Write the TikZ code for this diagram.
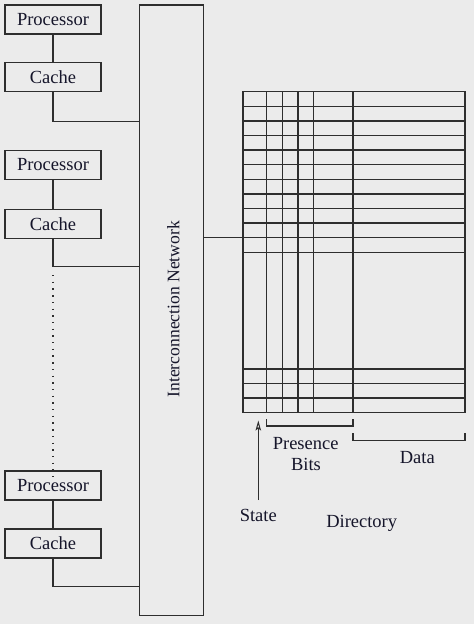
\documentclass[tikz,border=0pt]{standalone}
\usepackage{fontspec}
\setmainfont{Liberation Serif}
\usetikzlibrary{arrows.meta}
\definecolor{bg}{HTML}{EBEBEB}
\definecolor{ln}{HTML}{2E2E2E}
\definecolor{tx}{HTML}{15152A}
\begin{document}
\begin{tikzpicture}[x=1pt,y=-1pt,
  wire/.style={draw=ln,line width=1.4pt},
  unitbox/.style={draw=ln,line width=1.4pt,minimum width=96pt,minimum height=29pt,inner sep=0pt,
    font=\fontsize{18.5}{20}\selectfont,text=tx},
  lbl/.style={inner sep=0pt,font=\fontsize{18.5}{20}\selectfont,text=tx}]
\fill[bg] (0,0) rectangle (474,624);
\useasboundingbox (0,0) rectangle (474,624);
% processor/cache units
\node[unitbox] (p1) at (53,19.5) {Processor};
\node[unitbox] (c1) at (53,77.2) {Cache};
\node[unitbox] (p2) at (53,165) {Processor};
\node[unitbox] (c2) at (53,223.8) {Cache};
\node[unitbox] (p3) at (53,485.5) {Processor};
\node[unitbox] (c3) at (53,543.3) {Cache};
% network
\node[draw=ln,line width=1.4pt,minimum width=64.2pt,minimum height=610.5pt,inner sep=0pt] (net) at (171.6,310.25) {};
\node[lbl,rotate=90,font=\fontsize{17.6}{19}\selectfont] (netlbl) at (173.3,309.2) {Interconnection Network};
\coordinate (j1) at (139.5,121.3);
\coordinate (j2) at (139.5,266.7);
\coordinate (j3) at (139.5,586.7);
\draw[wire] (p1) -- (c1);
\draw[wire] (p2) -- (c2);
\draw[wire] (p3) -- (c3);
\draw[wire] (c1.south) |- (j1);
\draw[wire] (c2.south) |- (j2);
\draw[wire] (c3.south) |- (j3);
\coordinate (d1) at (53,275);
\draw[draw=ln,line width=1.4pt,dash pattern=on 1.4pt off 5.3pt] (d1) -- ([yshift=-6pt]p3.north);
% directory grid
\node[draw=ln,line width=1.4pt,minimum width=222pt,minimum height=320.5pt,inner sep=0pt] (dir) at (354,251.95) {};
\coordinate (nj) at (203.7,237.7);
\draw[wire] (nj) -- (dir.west |- nj);
\foreach \x in {266.7,282.3,298,313.7,353}
  \draw[wire] (\x,91.7) -- (\x,412.2);
\foreach \k in {1,...,11}
  \draw[wire] (243,91.7+\k*14.6) -- (465,91.7+\k*14.6);
\foreach \y in {369,383.4,397.8}
  \draw[wire] (243,\y) -- (465,\y);
% brackets
\draw[wire] (266.7,419) -- (266.7,426) -- (353,426) -- (353,419);
\draw[wire] (353,433.3) -- (353,440.3) -- (465,440.3) -- (465,433.3);
\node[lbl] (pres) at (305.7,443.3) {Presence};
\node[lbl] (bits) at (306,464.3) {Bits};
\node[lbl] (data) at (417.3,457.3) {Data};
\node[lbl] (state) at (258.3,515.7) {State};
\node[lbl] (dirl) at (361.7,523.3) {Directory};
\coordinate (st) at (258.3,500);
\coordinate (sttip) at (258.3,420.5);
\draw[wire,-{Stealth[open,length=10pt,width=5.5pt,inset=2pt,line width=1pt]}] (st) -- (sttip);
\end{tikzpicture}
\end{document}
